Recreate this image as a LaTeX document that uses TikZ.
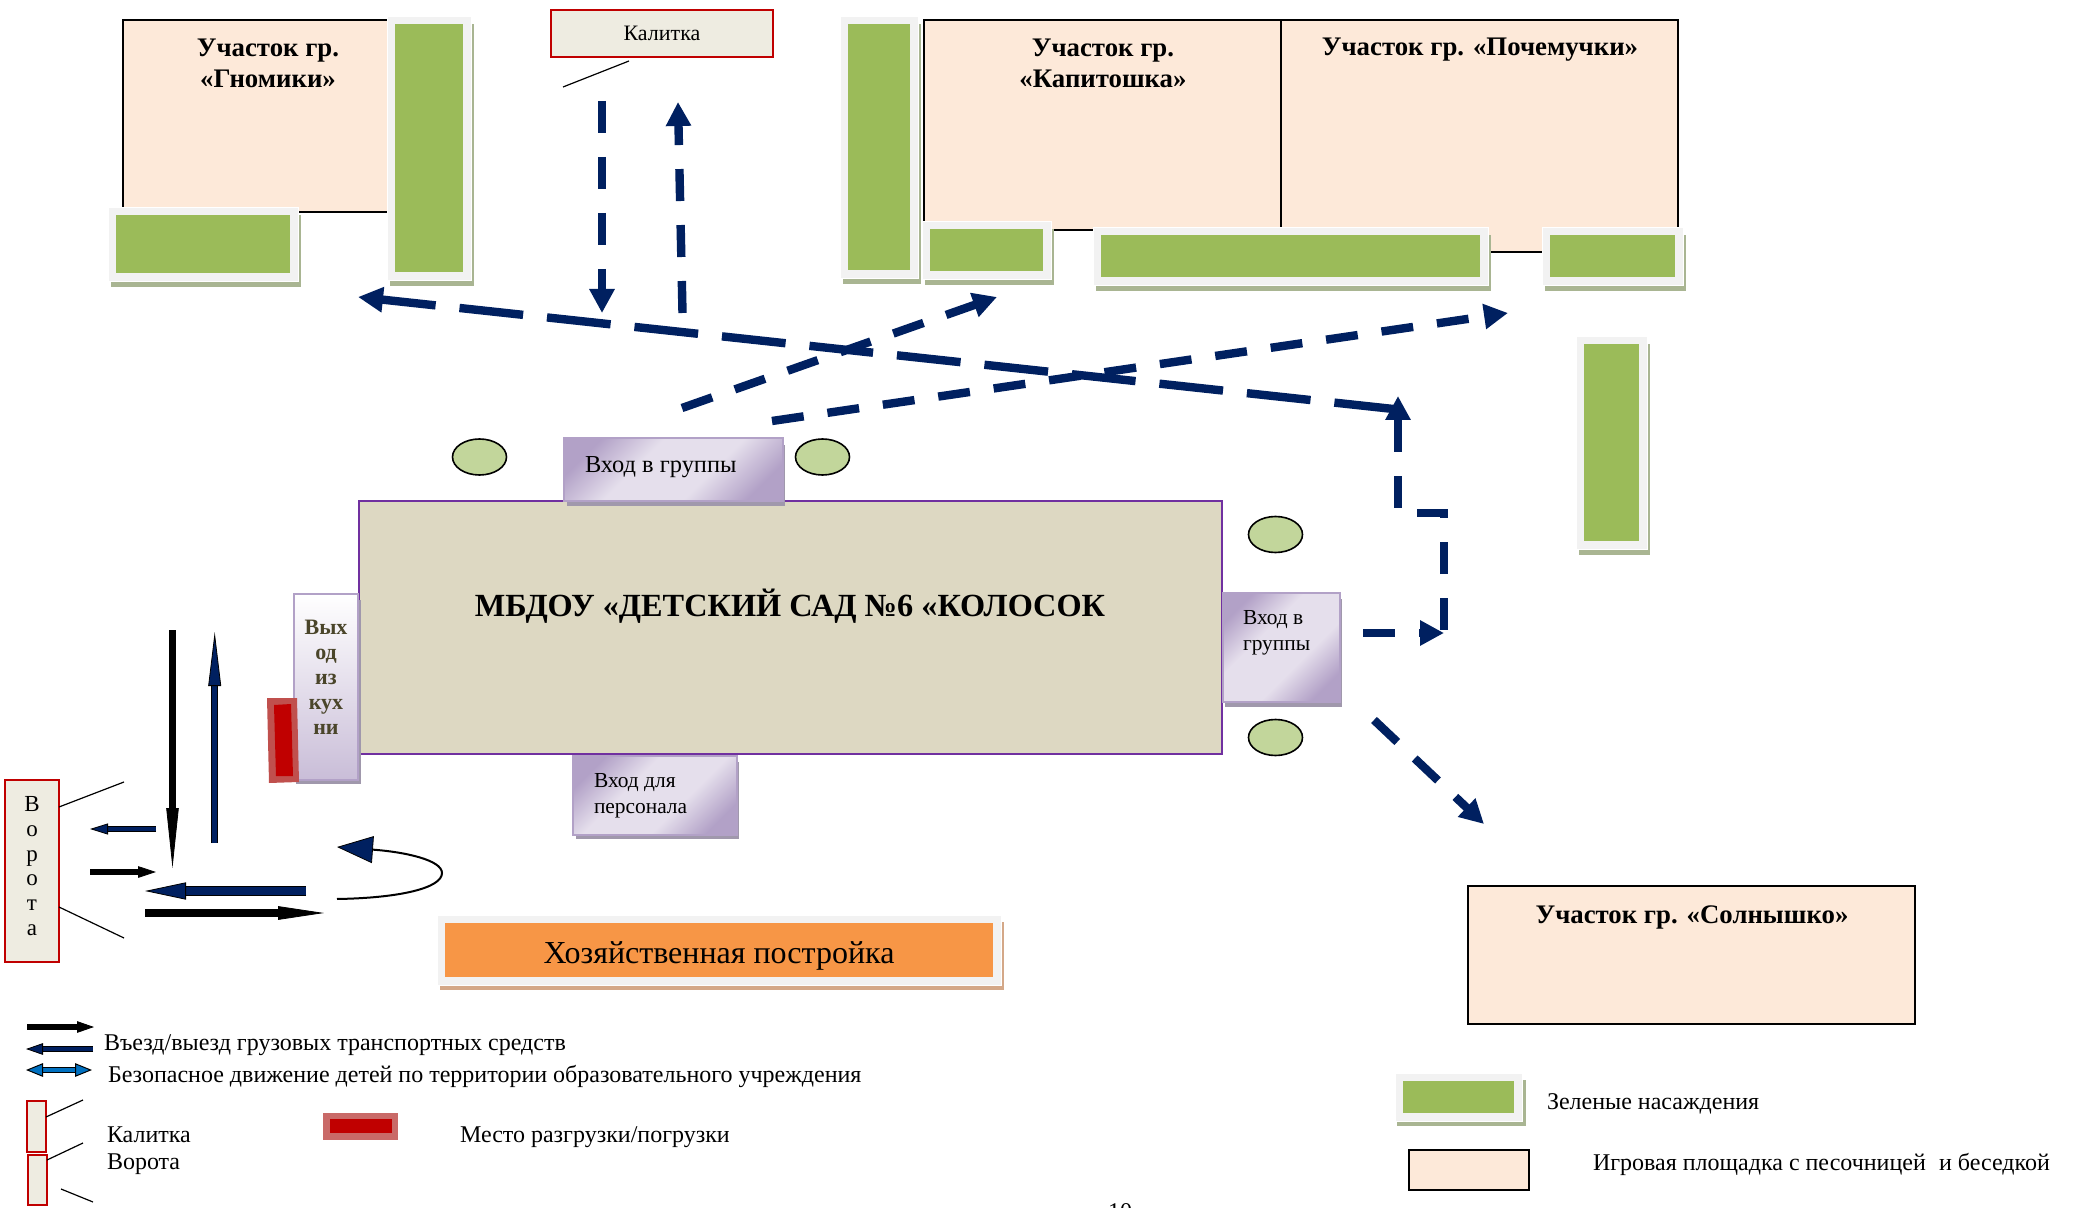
\documentclass[tikz,border=0pt]{standalone}
\usepackage{fontspec}
\setmainfont{Liberation Serif}
\usetikzlibrary{arrows.meta,shadings,shapes.geometric}
\definecolor{cPeach}{HTML}{FDE9D9}
\definecolor{cGreen}{HTML}{9BBB59}
\definecolor{cFrame}{HTML}{F2F2F2}
\definecolor{cGShadow}{HTML}{A9B592}
\definecolor{cNavy}{HTML}{002060}
\definecolor{cBuild}{HTML}{DDD8C2}
\definecolor{cBuildLine}{HTML}{7030A0}
\definecolor{cRed}{HTML}{C00000}
\definecolor{cRedOut}{HTML}{C0504D}
\definecolor{cGate}{HTML}{EEECE1}
\definecolor{cPurple}{HTML}{B2A1C7}
\definecolor{cPurpleL}{HTML}{E5DFEC}
\definecolor{cPShadow}{HTML}{A098AC}
\definecolor{cOrange}{HTML}{F79646}
\definecolor{cOShadow}{HTML}{D4A888}
\definecolor{cOval}{HTML}{C2D69B}
\definecolor{cOlive}{HTML}{4A452A}
\definecolor{cBlue}{HTML}{0070C0}
\pgfdeclareverticalshading{purpband}{100bp}{color(0bp)=(cPurple); color(24bp)=(cPurple); color(40bp)=(cPurpleL); color(60bp)=(cPurpleL); color(76bp)=(cPurple); color(100bp)=(cPurple)}
\newcommand{\rnode}[6]{\pgfmathsetmacro\rw{(#5-#3)*0.5}\pgfmathsetmacro\rh{(#6-#4)*0.5}%
 \node[#1,inner sep=0pt,outer sep=0pt,minimum width=\rw pt,minimum height=\rh pt,anchor=north west] (#2) at (#3,#4) {};}
% name, frame x1 y1 x2 y2 ; shadow offsets fixed
\newcommand{\plant}[5]{%
 \rnode{fill=cGShadow}{#1s}{\the\numexpr#2+3\relax}{\the\numexpr#3+8\relax}{\the\numexpr#4+3\relax}{\the\numexpr#5+6\relax}
 \rnode{fill=cFrame,draw=white,line width=.3pt}{#1f}{#2}{#3}{#4}{#5}
 \rnode{fill=cGreen}{#1}{\the\numexpr#2+8\relax}{\the\numexpr#3+8\relax}{\the\numexpr#4-8\relax}{\the\numexpr#5-8\relax}}
\tikzset{
 plot/.style={fill=cPeach,draw=black,line width=1.1pt},
 gate/.style={fill=cGate,draw=cRed,line width=1.1pt},
 oval/.style={fill=cOval,draw=black,line width=.8pt},
 purp/.style={draw=cPurple,line width=1.3pt,shading=purpband,shading angle=45},
 pshadow/.style={fill=cPShadow},
 body/.style={inner sep=0pt,outer sep=0pt,font=\fontsize{12}{14}\selectfont},
 head/.style={inner sep=0pt,outer sep=0pt,font=\fontsize{13.4}{15.5}\selectfont\bfseries,align=center,text=black},
 dashV/.style={draw=cNavy,line width=4.2pt,dash pattern=on 16pt off 12pt,-{Triangle[length=12pt,width=12pt,fill=cNavy]}},
 dashL/.style={draw=cNavy,line width=4.2pt,dash pattern=on 32pt off 12pt,-{Triangle[length=12.5pt,width=12pt,fill=cNavy]}},
 thin line/.style={draw=black,line width=.6pt},
 navyblock/.style={double=cNavy,line width=.4pt},
}
\begin{document}
\begin{tikzpicture}[x=0.5pt,y=-0.5pt]
\useasboundingbox (0,0) rectangle (2078,1208);
% plots
\rnode{plot}{gnomiki}{123}{20}{420}{212}
\rnode{plot}{kapit}{924}{20}{1281}{230}
\rnode{plot}{poch}{1281}{20}{1678}{252}
\rnode{plot}{soln}{1468}{886}{1915}{1024}
\node[head,anchor=center] (tgn) at (268,63.5) {Участок гр.\\«Гномики»};
\node[head,anchor=center] (tkp) at (1103,63.5) {Участок гр.\\«Капитошка»};
\node[head,anchor=center] (tpc) at (1480,50) {Участок гр. «Почемучки»};
\node[head,anchor=center] (tsl) at (1692,917) {Участок гр. «Солнышко»};
% plants
\plant{pa}{108}{207}{298}{281}
\plant{pb}{387}{16}{471}{280}
\plant{pc}{840}{16}{918}{278}
\plant{pd}{922}{221}{1051}{279}
\plant{pe}{1093}{227}{1488}{285}
\plant{pf}{1542}{227}{1683}{285}
\plant{pg}{1576}{336}{1647}{549}
% gate top
\rnode{gate}{kalitka}{551}{10}{773}{57}
\node[body,anchor=center,font=\fontsize{11}{13}\selectfont] (tkal) at (662,33) {Калитка};
\coordinate (kl1) at (629,61); \coordinate (kl2) at (563,87);
\draw[thin line] (kl1) -- (kl2);
% building
\rnode{fill=cBuild,draw=cBuildLine,line width=1pt}{build}{359}{501}{1222}{754}
\node[inner sep=0pt,outer sep=0pt,font=\fontsize{16.15}{20}\selectfont\bfseries,anchor=center] (tbuild) at (790,606) {МБДОУ «ДЕТСКИЙ САД №6 «КОЛОСОК};
% entrances
\rnode{pshadow}{e1s}{567}{445}{785}{506}
\rnode{purp}{e1}{564}{438}{783}{501}
\node[body,anchor=west,font=\fontsize{12.2}{14}\selectfont] (te1) at (585,467) {Вход в группы};
\rnode{pshadow}{e2s}{1225}{599}{1342}{707}
\rnode{purp}{e2}{1223}{593}{1340}{702}
\node[body,anchor=west,align=left,font=\fontsize{10.7}{13}\selectfont] (te2) at (1243,633) {Вход в\\группы};
\rnode{pshadow}{e3s}{576}{762}{739}{839}
\rnode{purp}{e3}{573}{756}{737}{835}
\node[body,anchor=west,align=left,font=\fontsize{10.7}{13}\selectfont] (te3) at (594,796) {Вход для\\персонала};
\rnode{pshadow}{e4s}{296}{600}{361}{784}
\rnode{draw=cPurple,line width=1.2pt,shading=axis,top color=white,bottom color=cPurple!70}{e4}{294}{594}{358}{780}
\node[inner sep=0pt,outer sep=0pt,font=\fontsize{11}{12.5}\selectfont\bfseries,align=center,text=cOlive,anchor=center] (te4) at (326,677) {Вых\\од\\из\\кух\\ни};
% unloading
\fill[cRedOut] (267,698) -- (297,698) -- (299,782) -- (269,783) -- cycle;
\fill[cRed] (274,705) -- (291,704) -- (293,776) -- (276,776) -- cycle;
% ovals
\node[oval,ellipse,inner sep=0pt,minimum width=27pt,minimum height=18pt] (o1) at (479.5,457) {};
\node[oval,ellipse,inner sep=0pt,minimum width=27pt,minimum height=18pt] (o2) at (822.5,457) {};
\node[oval,ellipse,inner sep=0pt,minimum width=27pt,minimum height=18pt] (o3) at (1275.5,534.5) {};
\node[oval,ellipse,inner sep=0pt,minimum width=27pt,minimum height=18pt] (o4) at (1275.5,737.5) {};
% dashed routes
\coordinate (d1a) at (602,101); \coordinate (d1b) at (602,313);
\draw[dashV] (d1a) -- (d1b);
\coordinate (d2a) at (682.5,313); \coordinate (d2b) at (678,102);
\draw[dashV] (d2a) -- (d2b);
\coordinate (d3a) at (1398,409.5); \coordinate (d3b) at (358,297);
\draw[dashL] (d3a) -- (d3b);
\coordinate (d4a) at (682,408); \coordinate (d4b) at (997,297);
\draw[dashV] (d4a) -- (d4b);
\coordinate (d5a) at (772,421); \coordinate (d5b) at (1508,313);
\draw[dashV] (d5a) -- (d5b);
\coordinate (d6a) at (1363,633); \coordinate (d6b) at (1444,633);
\draw[dashV] (d6a) -- (d6b);
\coordinate (d7a) at (1444,630); \coordinate (d7b) at (1444,513); \coordinate (d7c) at (1398,513); \coordinate (d7d) at (1398,396);
\draw[dashV] (d7a) -- (d7b) -- (d7c) -- (d7d);
\coordinate (d8a) at (1374,720); \coordinate (d8b) at (1484,824);
\draw[dashV] (d8a) -- (d8b);
% gate
\rnode{gate}{vorota}{5}{780}{59}{962}
\node[inner sep=0pt,outer sep=0pt,font=\fontsize{11.5}{12.35}\selectfont,align=center,anchor=center] (tvor) at (32,866) {В\\о\\р\\о\\т\\а};
\coordinate (vl1) at (59,807); \coordinate (vl2) at (124,782);
\coordinate (vl3) at (59,907); \coordinate (vl4) at (124,938);
\draw[thin line] (vl1) -- (vl2);
\draw[thin line] (vl3) -- (vl4);
% traffic arrows
\coordinate (t1a) at (172.5,630); \coordinate (t1b) at (172.5,868);
\draw[line width=3.3pt,-{Triangle[length=30pt,width=6.2pt,color=black,fill=black,line width=.4pt]}] (t1a) -- (t1b);
\coordinate (t2a) at (214.7,843); \coordinate (t2b) at (214.7,632);
\draw[navyblock,double distance=2.6pt,-{Triangle[length=27pt,width=6.4pt,color=black,fill=cNavy,line width=.4pt]}] (t2a) -- (t2b);
\coordinate (t3a) at (156,829); \coordinate (t3b) at (90,829);
\draw[navyblock,double distance=1.8pt,-{Triangle[length=9pt,width=5.5pt,color=black,fill=cNavy,line width=.4pt]}] (t3a) -- (t3b);
\coordinate (t4a) at (90,872); \coordinate (t4b) at (156,872);
\draw[line width=3.2pt,-{Triangle[length=9pt,width=5.8pt,color=black,fill=black,line width=.4pt]}] (t4a) -- (t4b);
\coordinate (t5a) at (306,891); \coordinate (t5b) at (145,891);
\draw[navyblock,double distance=3.8pt,-{Triangle[length=20.5pt,width=8.6pt,color=black,fill=cNavy,line width=.4pt]}] (t5a) -- (t5b);
\coordinate (t6a) at (145,913); \coordinate (t6b) at (324,913);
\draw[line width=3.6pt,-{Triangle[length=23pt,width=6.8pt,color=black,fill=black,line width=.4pt]}] (t6a) -- (t6b);
\coordinate (t7a) at (337,899); \coordinate (t7b) at (442,873); \coordinate (t7c) at (337,847);
\draw[line width=1pt,-{Triangle[length=18pt,width=13.5pt,color=black,fill=cNavy,line width=.4pt]}] (t7a) .. controls (400,898) and (442,888) .. (t7b) .. controls (442,860) and (405,852) .. (t7c);
% orange building
\rnode{fill=cOShadow}{orgs}{440}{922}{1004}{990}
\rnode{fill=cFrame,draw=white,line width=.3pt}{orgf}{437}{915}{1001}{985}
\rnode{fill=cOrange}{org}{445}{923}{993}{977}
\node[inner sep=0pt,outer sep=0pt,font=\fontsize{16}{18}\selectfont,anchor=center] (torg) at (719,956) {Хозяйственная постройка};
% legend
\coordinate (l1a) at (27,1027); \coordinate (l1b) at (94,1027);
\draw[line width=3pt,-{Triangle[length=8.5pt,width=5.8pt,color=black,fill=black,line width=.4pt]}] (l1a) -- (l1b);
\coordinate (l2a) at (93,1049); \coordinate (l2b) at (26,1049);
\draw[navyblock,double distance=2.2pt,-{Triangle[length=8.5pt,width=5.8pt,color=black,fill=cNavy,line width=.4pt]}] (l2a) -- (l2b);
\coordinate (l3a) at (26,1070); \coordinate (l3b) at (92,1070);
\draw[double=cBlue,double distance=2.2pt,line width=.5pt,{Triangle[length=8.5pt,width=6.8pt,fill=cBlue,color=black,line width=.5pt]}-{Triangle[length=8.5pt,width=6.8pt,fill=cBlue,color=black,line width=.5pt]}] (l3a) -- (l3b);
\node[body,anchor=west] (tl1) at (104,1045) {Въезд/выезд грузовых транспортных средств};
\node[body,anchor=west] (tl2) at (108,1076) {Безопасное движение детей по территории образовательного учреждения};
\rnode{gate}{lg1}{27}{1101}{46}{1152}
\rnode{gate}{lg2}{28}{1155}{47}{1205}
\coordinate (lk1) at (46,1117); \coordinate (lk2) at (83,1100);
\draw[thin line] (lk1) -- (lk2);
\coordinate (lv1) at (47,1160); \coordinate (lv2) at (83,1143);
\draw[thin line] (lv1) -- (lv2);
\coordinate (lv3) at (61,1189); \coordinate (lv4) at (93,1202);
\draw[thin line] (lv3) -- (lv4);
\node[body,anchor=west] (tl3) at (107,1135) {Калитка};
\node[body,anchor=west] (tl4) at (107,1164) {Ворота};
\rnode{fill=cRedOut!85}{lr}{323}{1113}{398}{1140}
\rnode{fill=cRed}{lri}{330}{1119}{392}{1133}
\node[body,anchor=west] (tl5) at (460,1137) {Место разгрузки/погрузки};
\rnode{fill=cGShadow}{lgs}{1397}{1080}{1526}{1126}
\rnode{fill=cFrame,draw=white,line width=.3pt}{lgf}{1395}{1073}{1522}{1121}
\rnode{fill=cGreen}{lgi}{1403}{1081}{1514}{1113}
\node[body,anchor=west] (tl6) at (1547,1104) {Зеленые насаждения};
\rnode{plot}{lpch}{1409}{1150}{1529}{1190}
\node[body,anchor=west] (tl7) at (1593,1164) {Игровая площадка с песочницей\hspace{.55em}и беседкой};
\node[inner sep=0pt,outer sep=0pt,font=\fontsize{12}{14}\selectfont,anchor=center] (pnum) at (1120,1212) {10};
\end{tikzpicture}
\end{document}
